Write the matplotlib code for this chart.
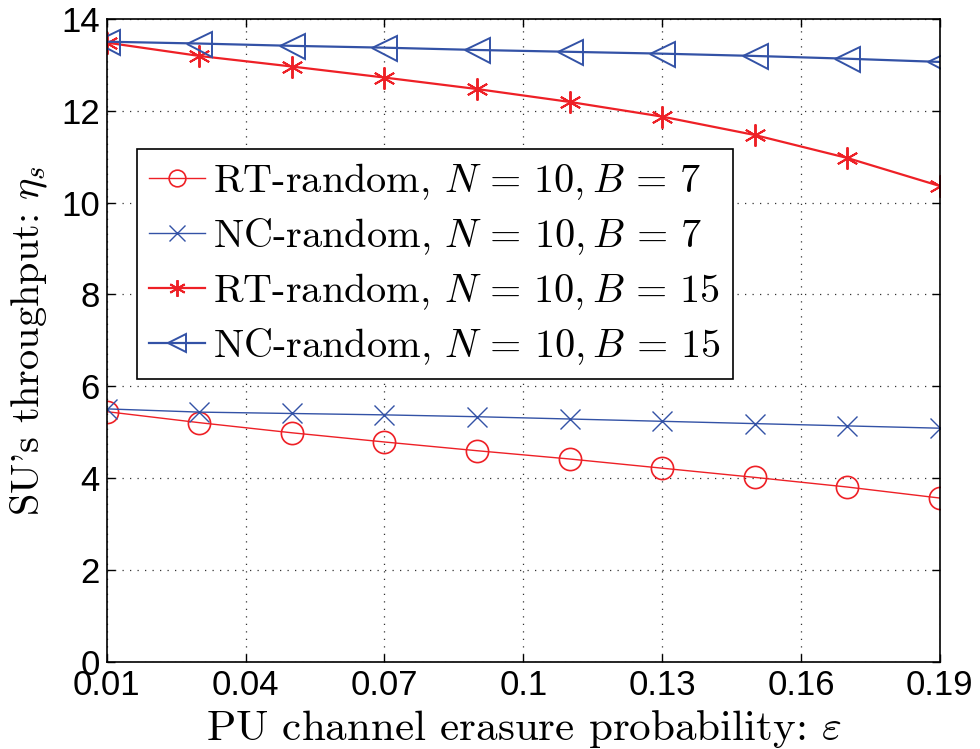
import matplotlib
matplotlib.use("Agg")
import matplotlib.pyplot as plt

plt.rcParams['mathtext.fontset'] = 'cm'
plt.rcParams['axes.unicode_minus'] = False

# erasure probability sweep
eps = [0.01, 0.03, 0.05, 0.07, 0.09, 0.11, 0.13, 0.15, 0.17, 0.19]

rt_b7 = [5.45, 5.21, 4.99, 4.79, 4.60, 4.42, 4.22, 4.02, 3.81, 3.57]
nc_b7 = [5.51, 5.44, 5.41, 5.38, 5.34, 5.29, 5.24, 5.19, 5.14, 5.09]
rt_b15 = [13.48, 13.19, 12.96, 12.72, 12.47, 12.19, 11.87, 11.47, 10.97, 10.36]
nc_b15 = [13.50, 13.46, 13.41, 13.37, 13.32, 13.28, 13.24, 13.19, 13.13, 13.06]

xticks = [0.01, 0.04, 0.07, 0.1, 0.13, 0.16, 0.19]
xtick_labels = ['0.01', '0.04', '0.07', '0.1', '0.13', '0.16', '0.19']
yticks = [0, 2, 4, 6, 8, 10, 12, 14]

red = '#ee2026'
blue = '#3352a6'
serif = ['cmr10', 'DejaVu Serif']
asterisk = (6, 2, 0)

fig = plt.figure(figsize=(9.8, 7.49), dpi=100)
ax = fig.add_axes([0.109, 0.116, 0.85, 0.859])

ax.plot(eps, rt_b7, color=red, lw=1.0, marker='o', ms=16, mfc='none', mew=1.2,
        label=r'RT-random, $N\,=\,10, B\,=\,7$')
ax.plot(eps, nc_b7, color=blue, lw=1.0, marker='x', ms=15, mew=1.0,
        label=r'NC-random, $N\,=\,10, B\,=\,7$')
ax.plot(eps, rt_b15, color=red, lw=1.6, marker=asterisk, ms=16, mew=1.4,
        label=r'RT-random, $N\,=\,10, B\,=\,15$')
ax.plot(eps, nc_b15, color=blue, lw=1.6, marker='<', ms=18, mfc='none', mew=1.4,
        label=r'NC-random, $N\,=\,10, B\,=\,15$')

ax.set_xlim(0.01, 0.19)
ax.set_ylim(0, 14)
ax.set_xticks(xticks)
ax.set_xticklabels(xtick_labels)
ax.set_yticks(yticks)

for lab in ax.get_xticklabels() + ax.get_yticklabels():
    lab.set_fontfamily(['Liberation Sans', 'DejaVu Sans'])
    lab.set_fontsize(25)

ax.tick_params(direction='in', length=6, width=1, top=True, right=True, pad=5)
ax.grid(True, linestyle=(0, (1, 5)), color='#333333', linewidth=0.9)
for s in ax.spines.values():
    s.set_linewidth(1.2)

ax.set_xlabel(r'PU channel erasure probability: $\varepsilon$', fontsize=31,
              fontfamily=serif, labelpad=4)
ax.set_ylabel(r"SU's throughput: $\eta_s$", fontsize=29, fontfamily=serif, labelpad=8)

leg = ax.legend(loc='upper left', bbox_to_anchor=(0.036, 0.798), borderaxespad=0,
                prop={'family': serif, 'size': 29},
                handlelength=1.4, handletextpad=0.2, borderpad=0.3, labelspacing=0.35,
                fancybox=False, framealpha=1, edgecolor='black')
leg.get_frame().set_linewidth(1.2)
for h in leg.legend_handles:
    h.set_markersize(h.get_markersize() * 0.75)

fig.savefig('out.png', dpi=100)
